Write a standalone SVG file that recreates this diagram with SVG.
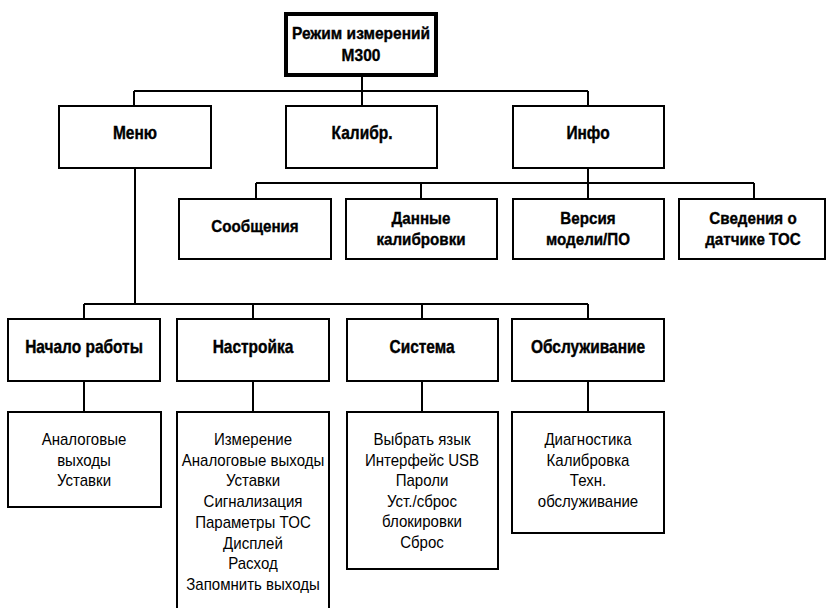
<svg xmlns="http://www.w3.org/2000/svg" width="827" height="608" viewBox="0 0 827 608">
  <style>
    .box { fill: #fff; stroke: #000; stroke-width: 2; }
    .root { fill: #fff; stroke: #000; stroke-width: 4; }
    .t { font-family: "Liberation Sans", Arial, sans-serif; text-anchor: middle; fill: #000; }
    .h0 { font-weight: bold; font-size: 16px; stroke: #000; stroke-width: 0.35; }
    .h1 { font-weight: bold; font-size: 18px; stroke: #000; stroke-width: 0.4; }
    .h2 { font-weight: bold; font-size: 16.5px; stroke: #000; stroke-width: 0.35; }
    .it { font-size: 16px; }
    .ln { fill: none; stroke: #000; stroke-width: 2; }
  </style>
  <rect width="827" height="608" fill="#fff"/>

  <!-- connectors -->
  <g id="connectors" class="ln">
    <path d="M362 75 V91 M134 91 H588 M134 91 V106 M362 91 V106 M588 91 V106"/>
    <path d="M588 168 V183 M256 183 H754 M256 183 V199 M421 183 V199 M588 183 V199 M754 183 V199"/>
    <path d="M135 168 V304 M84 304 H588 M84 304 V319 M253 304 V319 M422 304 V319 M588 304 V319"/>
    <path d="M84 381 V412 M253 381 V412 M422 381 V412 M588 381 V412"/>
  </g>

  <g id="root">
    <rect class="root" x="286" y="14" width="150" height="61"/>
    <text class="t h0" transform="translate(361,39) scale(0.97,1)">Режим измерений</text>
    <text class="t h0" transform="translate(361,61) scale(0.97,1)">M300</text>
  </g>

  <g id="menu">
    <rect class="box" x="59" y="106" width="152" height="62"/>
    <text class="t h1" transform="translate(135,139) scale(0.86,1)">Меню</text>
  </g>
  <g id="calib">
    <rect class="box" x="286" y="106" width="151" height="62"/>
    <text class="t h1" transform="translate(362,139) scale(0.86,1)">Калибр.</text>
  </g>
  <g id="info">
    <rect class="box" x="513" y="106" width="151" height="62"/>
    <text class="t h1" transform="translate(588,139) scale(0.86,1)">Инфо</text>
  </g>

  <g id="messages">
    <rect class="box" x="179" y="199" width="152" height="60"/>
    <text class="t h2" transform="translate(255,232) scale(0.92,1)">Сообщения</text>
  </g>
  <g id="cal-data">
    <rect class="box" x="346" y="199" width="151" height="60"/>
    <text class="t h2" transform="translate(421,224) scale(0.92,1)">Данные</text>
    <text class="t h2" transform="translate(421,245) scale(0.92,1)">калибровки</text>
  </g>
  <g id="version">
    <rect class="box" x="513" y="199" width="151" height="60"/>
    <text class="t h2" transform="translate(588,224) scale(0.92,1)">Версия</text>
    <text class="t h2" transform="translate(588,245) scale(0.92,1)">модели/ПО</text>
  </g>
  <g id="toc-sensor">
    <rect class="box" x="679" y="199" width="146" height="60"/>
    <text class="t h2" transform="translate(753,224) scale(0.92,1)">Сведения о</text>
    <text class="t h2" transform="translate(753,245) scale(0.92,1)">датчике TOC</text>
  </g>

  <g id="quick-setup">
    <rect class="box" x="8" y="319" width="152" height="62"/>
    <text class="t h1" transform="translate(84,353) scale(0.86,1)">Начало работы</text>
  </g>
  <g id="config">
    <rect class="box" x="177" y="319" width="152" height="62"/>
    <text class="t h1" transform="translate(253,353) scale(0.86,1)">Настройка</text>
  </g>
  <g id="system">
    <rect class="box" x="347" y="319" width="151" height="62"/>
    <text class="t h1" transform="translate(422,353) scale(0.86,1)">Система</text>
  </g>
  <g id="service">
    <rect class="box" x="512" y="319" width="152" height="62"/>
    <text class="t h1" transform="translate(588,353) scale(0.86,1)">Обслуживание</text>
  </g>

  <g id="quick-setup-items">
    <rect class="box" x="8" y="412" width="153" height="95"/>
    <g class="t it">
      <text transform="translate(84,445) scale(0.94,1)">Аналоговые</text>
      <text transform="translate(84,466) scale(0.94,1)">выходы</text>
      <text transform="translate(84,486) scale(0.94,1)">Уставки</text>
    </g>
  </g>
  <g id="config-items">
    <rect class="box" x="177" y="412" width="152" height="200"/>
    <g class="t it">
      <text transform="translate(253,445) scale(0.94,1)">Измерение</text>
      <text transform="translate(253,465.7) scale(0.94,1)">Аналоговые выходы</text>
      <text transform="translate(253,486.4) scale(0.94,1)">Уставки</text>
      <text transform="translate(253,507.1) scale(0.94,1)">Сигнализация</text>
      <text transform="translate(253,527.8) scale(0.94,1)">Параметры TOC</text>
      <text transform="translate(253,548.5) scale(0.94,1)">Дисплей</text>
      <text transform="translate(253,569.2) scale(0.94,1)">Расход</text>
      <text transform="translate(253,589.9) scale(0.94,1)">Запомнить выходы</text>
    </g>
  </g>
  <g id="system-items">
    <rect class="box" x="347" y="412" width="151" height="157"/>
    <g class="t it">
      <text transform="translate(422,445) scale(0.94,1)">Выбрать язык</text>
      <text transform="translate(422,465.6) scale(0.94,1)">Интерфейс USB</text>
      <text transform="translate(422,486.2) scale(0.94,1)">Пароли</text>
      <text transform="translate(422,506.8) scale(0.94,1)">Уст./сброс</text>
      <text transform="translate(422,527.4) scale(0.94,1)">блокировки</text>
      <text transform="translate(422,548) scale(0.94,1)">Сброс</text>
    </g>
  </g>
  <g id="service-items">
    <rect class="box" x="512" y="412" width="152" height="121"/>
    <g class="t it">
      <text transform="translate(588,445) scale(0.94,1)">Диагностика</text>
      <text transform="translate(588,466) scale(0.94,1)">Калибровка</text>
      <text transform="translate(588,486) scale(0.94,1)">Техн.</text>
      <text transform="translate(588,507) scale(0.94,1)">обслуживание</text>
    </g>
  </g>
</svg>
